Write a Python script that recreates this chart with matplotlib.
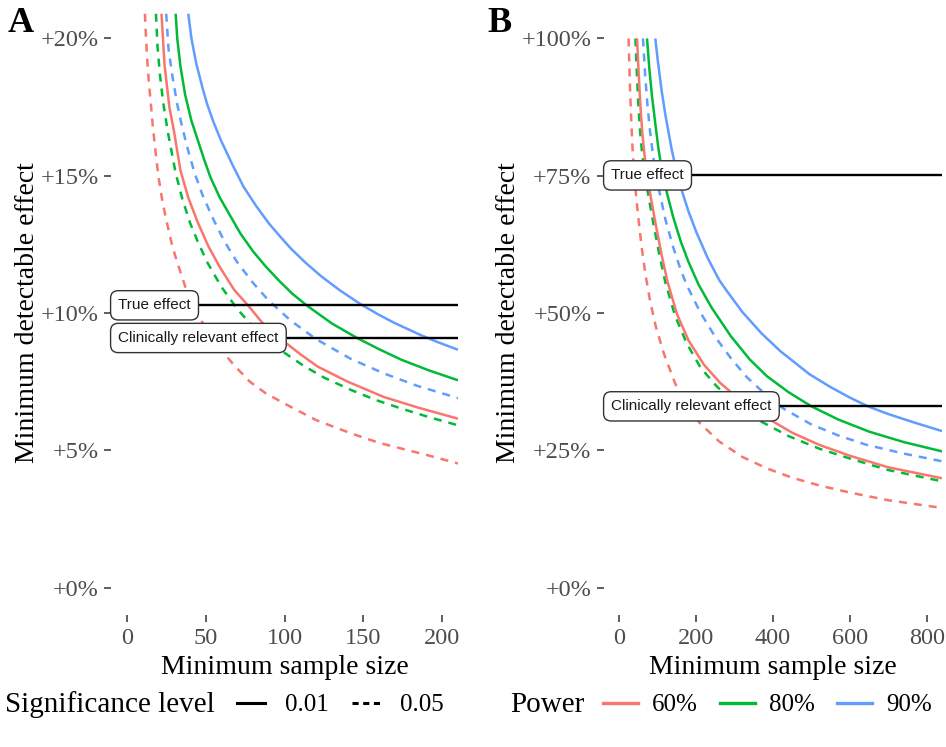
import matplotlib.pyplot as plt
from matplotlib.lines import Line2D

plt.rcParams['font.family'] = ['Liberation Serif', 'DejaVu Serif']

# --- colours (ggplot hue palette) ---
RED, GREEN, BLUE = '#F8766D', '#00BA38', '#619CFF'
DASH = (0, (3.2, 2.8))

# --- PANEL A: minimum sample size vs. detectable effect (%) ---
# solid = significance 0.01, dashed = 0.05
a_red01_n = [22, 24, 27, 30, 34, 39, 45, 52, 59, 68, 78, 88, 100, 110, 121, 140, 163, 185, 210]
a_red01_y = [20.9, 19.0, 17.5, 16.6, 15.2, 14.2, 13.3, 12.4, 11.67, 10.85, 10.2, 9.5, 8.95, 8.5, 8.05,
             7.5, 6.94, 6.55, 6.15]
a_red05_n = [11.5, 12.2, 13, 14, 15, 16.5, 18, 20, 22.5, 25, 29, 33, 38, 45, 52, 60, 68, 78, 88, 100,
             120, 142, 160, 175, 192, 210]
a_red05_y = [20.9, 20.0, 19.2, 18.4, 17.8, 16.8, 16.0, 15.0, 14.1, 13.4, 12.4, 11.67, 10.8, 9.95, 9.25,
             8.65, 8.1, 7.5, 7.08, 6.7, 6.1, 5.62, 5.27, 5.05, 4.8, 4.52]
a_green01_n = [31, 32, 34, 37, 41, 45, 49, 53, 59, 65, 72, 80, 88, 97, 105, 114, 130, 146, 160, 174,
               192, 210]
a_green01_y = [20.9, 20.0, 19.0, 17.95, 17.0, 16.3, 15.6, 14.95, 14.2, 13.6, 12.9, 12.25, 11.7, 11.15,
               10.7, 10.28, 9.62, 9.09, 8.68, 8.3, 7.9, 7.55]
a_green05_n = [18.5, 19.5, 21, 23, 26, 31, 35, 40, 45, 51, 60, 70, 80, 90, 100, 112, 125, 142, 158, 174,
               192, 210]
a_green05_y = [20.9, 19.7, 18.7, 17.7, 16.6, 15.1, 14.2, 13.3, 12.6, 11.85, 10.95, 10.15, 9.5, 8.98,
               8.55, 8.08, 7.65, 7.2, 6.83, 6.52, 6.2, 5.91]
a_blue01_n = [39, 41, 44, 48, 51, 55, 60, 67, 74, 82, 90, 97, 104, 113, 123, 135, 148, 160, 170, 187,
              198, 210]
a_blue01_y = [20.9, 20.0, 19.1, 18.2, 17.6, 16.95, 16.25, 15.4, 14.6, 13.9, 13.27, 12.8, 12.35, 11.85,
              11.35, 10.83, 10.33, 9.93, 9.63, 9.18, 8.92, 8.66]
a_blue05_n = [25, 26.5, 29, 32, 35, 39, 43, 48, 55, 62, 70, 80, 90, 104, 120, 142, 163, 184, 210]
a_blue05_y = [20.9, 19.6, 18.6, 17.6, 16.8, 15.9, 15.1, 14.3, 13.4, 12.6, 11.85, 11.1, 10.45, 9.72,
              9.05, 8.33, 7.8, 7.35, 6.9]
a_true_effect = 10.28
a_clin_effect = 9.09

# --- PANEL B ---
b_red01_n = [46, 50, 55, 60, 66, 73, 82, 95, 110, 125, 150, 180, 220, 262, 320, 384, 450, 520, 600,
             700, 840]
b_red01_y = [100, 94, 87.5, 82.5, 78.5, 75.0, 71.0, 66.0, 60.6, 55.8, 49.8, 45.0, 40.6, 37.3, 33.8,
             30.9, 28.2, 26.0, 24.0, 21.9, 19.9]
b_red05_n = [24, 26, 28.5, 31.5, 35, 39, 44, 50, 58, 68, 80, 95, 115, 145, 175, 210, 260, 320, 384,
             450, 520, 600, 700, 840]
b_red05_y = [100, 95, 89.5, 84, 79.0, 75.0, 71.0, 67.0, 62.0, 57.0, 52.2, 47.5, 42.8, 37.2, 33.3,
             29.9, 26.6, 23.8, 21.7, 20.0, 18.6, 17.3, 15.9, 14.5]
b_green01_n = [72, 78, 85, 93, 102, 112, 124, 140, 160, 180, 206, 240, 290, 340, 384, 440, 500, 570,
               650, 740, 840]
b_green01_y = [100, 94.5, 89.5, 84.8, 79.8, 75.5, 71.8, 67.5, 63, 59.3, 55.2, 51.0, 45.8, 41.5, 38.5,
               35.6, 33.0, 30.6, 28.4, 26.5, 24.8]
b_green05_n = [42, 45, 49, 54, 60, 67, 76, 88, 103, 120, 145, 175, 212, 254, 310, 370, 440, 520, 600,
               700, 840]
b_green05_y = [100, 94.5, 88.5, 83, 78.5, 75.0, 71.2, 66.5, 61.0, 55.5, 49.5, 44.5, 40.0, 36.6, 33.0,
               30.2, 27.6, 25.3, 23.5, 21.4, 19.35]
b_blue01_n = [93.5, 100, 110, 120, 137, 150, 163, 180, 200, 230, 260, 280, 320, 370, 420, 496, 550,
              600, 647, 700, 770, 840]
b_blue01_y = [100, 96, 90.5, 86, 79.5, 75.5, 72.2, 68.5, 64.8, 60.0, 56.0, 54.0, 50.2, 46.3, 43.0,
              38.8, 36.5, 34.6, 33.0, 31.6, 30.0, 28.5]
b_blue05_n = [61.5, 67, 73, 80, 88, 97, 106, 120, 140, 160, 176, 210, 250, 290, 332, 380, 427, 500,
              570, 643, 740, 840]
b_blue05_y = [100, 93.5, 88, 83.0, 78.5, 74.5, 71.5, 67.0, 62.0, 57.8, 55.0, 50.2, 45.6, 41.8, 38.3,
              35.2, 32.6, 29.7, 27.7, 26.0, 24.4, 23.0]
b_true_effect = 75.06
b_clin_effect = 33.0

a_xticks = [0, 50, 100, 150, 200]
a_yticks = [0, 5, 10, 15, 20]
b_xticks = [0, 200, 400, 600, 800]
b_yticks = [0, 25, 50, 75, 100]

W, H = 946, 747
fig = plt.figure(figsize=(W / 100, H / 100), dpi=100)
axA = fig.add_axes([111 / W, 1 - 615 / H, 347 / W, 604 / H])
axB = fig.add_axes([604 / W, 1 - 615 / H, 338 / W, 604 / H])


def draw_panel(ax, curves, true_eff, clin_eff, xlim, ylim, xticks, yticks, ylab_x):
    for n, y, col, ls in curves:
        ax.plot(n, y, color=col, ls=ls, lw=1.8, solid_capstyle='butt', solid_joinstyle='round')
    for val, txt in [(true_eff, 'True effect'), (clin_eff, 'Clinically relevant effect')]:
        ax.axhline(val, color='black', lw=1.7, zorder=3)
        ax.annotate(txt, xy=(0, val), xycoords=ax.get_yaxis_transform(),
                    xytext=(5.2, 0), textcoords='offset points', ha='left', va='center',
                    fontsize=11, family=['Liberation Sans', 'DejaVu Sans'], color='#1a1a1a', zorder=4,
                    bbox=dict(boxstyle='round,pad=0.5,rounding_size=0.5', fc='white', ec='#333333', lw=1.0))
    ax.set_xlim(*xlim)
    ax.set_ylim(*ylim)
    ax.set_xticks(xticks)
    ax.set_yticks(yticks)
    ax.set_yticklabels([f'+{v}%' for v in yticks])
    for s in ax.spines.values():
        s.set_visible(False)
    ax.tick_params(length=5, width=1.1, color='#333333', labelcolor='#4d4d4d', labelsize=17.5, pad=4)
    ax.set_xlabel('Minimum sample size', fontsize=20, labelpad=5)
    ax.set_ylabel('Minimum detectable effect', fontsize=20)
    ax.yaxis.set_label_coords(ylab_x, 0.5)


draw_panel(axA, [
    (a_red05_n, a_red05_y, RED, DASH),
    (a_green05_n, a_green05_y, GREEN, DASH),
    (a_blue05_n, a_blue05_y, BLUE, DASH),
    (a_red01_n, a_red01_y, RED, '-'),
    (a_green01_n, a_green01_y, GREEN, '-'),
    (a_blue01_n, a_blue01_y, BLUE, '-'),
], a_true_effect, a_clin_effect, (-10, 210), (-1, 21), a_xticks, a_yticks, (40 - 111) / 347)

draw_panel(axB, [
    (b_red05_n, b_red05_y, RED, DASH),
    (b_green05_n, b_green05_y, GREEN, DASH),
    (b_blue05_n, b_blue05_y, BLUE, DASH),
    (b_red01_n, b_red01_y, RED, '-'),
    (b_green01_n, b_green01_y, GREEN, '-'),
    (b_blue01_n, b_blue01_y, BLUE, '-'),
], b_true_effect, b_clin_effect, (-40, 840), (-5, 105), b_xticks, b_yticks, (521 - 604) / 338)

fig.text(8 / W, 1 - 23 / H, 'A', fontsize=26, fontweight='bold', ha='left', va='center')
fig.text(487 / W, 1 - 23 / H, 'B', fontsize=26, fontweight='bold', ha='left', va='center')

# --- legends at the bottom ---
leg_y = 1 - 705 / H
fig.text(5 / W, leg_y, 'Significance level', fontsize=21, ha='left', va='center')
sig_handles = [Line2D([], [], color='black', lw=2.2, ls='-'),
               Line2D([], [], color='black', lw=2.2, ls=(0, (2, 1.5)))]
fig.legend(sig_handles, ['0.01', '0.05'], loc='center left', bbox_to_anchor=(237 / W, leg_y),
           ncol=2, frameon=False, fontsize=18, handlelength=1.12, handletextpad=0.8,
           columnspacing=0.92, borderpad=0, borderaxespad=0)

fig.text(510 / W, leg_y, 'Power', fontsize=21, ha='left', va='center')
pow_handles = [Line2D([], [], color=c, lw=2.4) for c in (RED, GREEN, BLUE)]
fig.legend(pow_handles, ['60%', '80%', '90%'], loc='center left', bbox_to_anchor=(603 / W, leg_y),
           ncol=3, frameon=False, fontsize=18, handlelength=1.4, handletextpad=0.56,
           columnspacing=0.88, borderpad=0, borderaxespad=0)

fig.savefig('out.png', dpi=100)
